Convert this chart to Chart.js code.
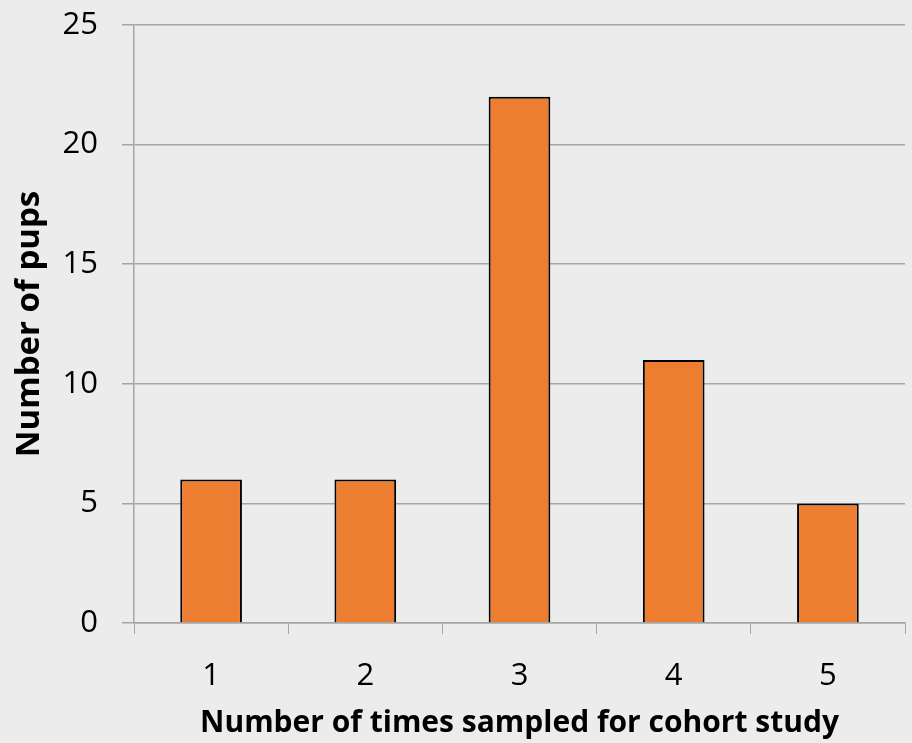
<!DOCTYPE html>
<html>
<head>
<meta charset="utf-8">
<script src="https://cdn.jsdelivr.net/npm/chart.js@4/dist/chart.umd.min.js"></script>
<style>
  html, body { margin: 0; padding: 0; background: #ececec; }
  #wrap { width: 912px; height: 743px; }
</style>
</head>
<body>
<div id="wrap"><canvas id="pupsChart" width="912" height="743"></canvas></div>
<script>
var categories = ['1', '2', '3', '4', '5'];
var pupCounts = [6, 6, 22, 11, 5];
var yTicks = [0, 5, 10, 15, 20, 25];

var ctx = document.getElementById('pupsChart').getContext('2d');
new Chart(ctx, {
    type: 'bar',
    data: {
        labels: categories,
        datasets: [{
            label: 'Number of pups',
            data: pupCounts,
            backgroundColor: '#ed7d31',
            borderColor: '#000000',
            borderWidth: 2,
            barPercentage: 0.4,
            categoryPercentage: 1
        }]
    },
    options: {
        responsive: false,
        animation: false,
        layout: { padding: { top: 25, right: 7, left: 0, bottom: 0 } },
        plugins: {
            legend: { display: false },
            tooltip: { enabled: false }
        },
        scales: {
            x: {
                offset: true,
                grid: {
                    offset: true,
                    drawOnChartArea: false,
                    color: '#a6a6a6',
                    tickLength: 11
                },
                border: { color: '#a6a6a6', width: 1.5 },
                ticks: {
                    color: '#000',
                    padding: 24,
                    font: { family: 'Open Sans', size: 31 }
                },
                title: {
                    display: true,
                    text: 'Number of times sampled for cohort study',
                    color: '#000',
                    font: { family: 'Open Sans', size: 30, weight: 'bold' },
                    padding: { top: 6, bottom: 2 }
                },
                afterFit: function (scale) { scale.height = 120; }
            },
            y: {
                min: 0,
                max: 25,
                afterBuildTicks: function (scale) {
                    scale.ticks = yTicks.map(function (v) { return { value: v }; });
                },
                grid: {
                    color: '#a6a6a6',
                    lineWidth: 1.5,
                    tickLength: 12
                },
                border: { color: '#a6a6a6', width: 1.5 },
                ticks: {
                    color: '#000',
                    padding: 24,
                    font: { family: 'Open Sans', size: 31 }
                },
                title: {
                    display: true,
                    text: 'Number of pups',
                    color: '#000',
                    font: { family: 'Open Sans', size: 33, weight: 'bold' },
                    padding: { top: 10, bottom: 0 }
                },
                afterFit: function (scale) {
                    scale.width = 134;
                    scale.paddingTop = 0;
                    scale.paddingBottom = 0;
                }
            }
        }
    }
});
</script>
</body>
</html>
